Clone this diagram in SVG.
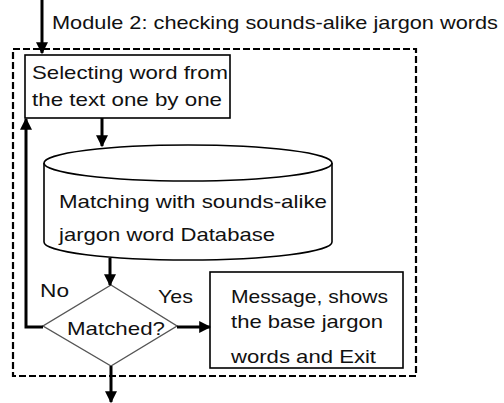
<svg xmlns="http://www.w3.org/2000/svg" width="504" height="403" viewBox="0 0 504 403">
<style>
text{font-family:"Liberation Sans",Arial,sans-serif;font-size:19px;fill:#111}
.box{fill:#fff;stroke:#000;stroke-width:1.6}
.ln{fill:none;stroke:#000;stroke-width:3}
</style>
<defs>
<marker id="ah" markerWidth="4" markerHeight="4" refX="3.6" refY="2" orient="auto" markerUnits="strokeWidth">
<path d="M0,0 L4,2 L0,4 Z" fill="#000"/>
</marker>
</defs>
<rect width="504" height="403" fill="#fff"/>
<g id="module-frame">
<rect x="13" y="49" width="403" height="327" fill="none" stroke="#000" stroke-width="2.2" stroke-dasharray="7,3"/>
<text x="52" y="29" textLength="446" lengthAdjust="spacingAndGlyphs">Module 2: checking sounds-alike jargon words</text>
</g>
<g id="select">
<rect class="box" x="25" y="55" width="205" height="63"/>
<text x="32" y="79" textLength="196" lengthAdjust="spacingAndGlyphs">Selecting word from</text>
<text x="32" y="106" textLength="190" lengthAdjust="spacingAndGlyphs">the text one by one</text>
</g>
<g id="database">
<path class="box" d="M44,163 L44,242 A144,18 0 0 0 332,242 L332,163"/>
<ellipse class="box" cx="188" cy="163" rx="144" ry="18"/>
<text x="59" y="208" textLength="268" lengthAdjust="spacingAndGlyphs">Matching with sounds-alike</text>
<text x="59" y="241" textLength="216" lengthAdjust="spacingAndGlyphs">jargon word Database</text>
</g>
<g id="decision">
<polygon points="111,285 177,326 111,366 43,326" fill="#fff" stroke="#555" stroke-width="1.4"/>
<text x="67" y="335" textLength="98" lengthAdjust="spacingAndGlyphs">Matched?</text>
</g>
<g id="message">
<rect class="box" x="210" y="272" width="193" height="96"/>
<text x="231" y="303" textLength="157" lengthAdjust="spacingAndGlyphs">Message, shows</text>
<text x="231" y="328" textLength="152" lengthAdjust="spacingAndGlyphs">the base jargon</text>
<text x="231" y="363" textLength="145" lengthAdjust="spacingAndGlyphs">words and Exit</text>
</g>
<g id="connectors">
<line class="ln" x1="42" y1="0" x2="42" y2="53" marker-end="url(#ah)"/>
<line class="ln" x1="102" y1="118" x2="102" y2="146" marker-end="url(#ah)"/>
<line class="ln" x1="110" y1="258" x2="110" y2="285" marker-end="url(#ah)"/>
<polyline class="ln" points="43,327 26,327 26,119" marker-end="url(#ah)"/>
<line class="ln" x1="177" y1="327" x2="210" y2="327" marker-end="url(#ah)"/>
<line class="ln" x1="111" y1="366" x2="111" y2="402" marker-end="url(#ah)"/>
<text x="40" y="297" textLength="29" lengthAdjust="spacingAndGlyphs">No</text>
<text x="158" y="303" textLength="35" lengthAdjust="spacingAndGlyphs">Yes</text>
</g>
</svg>
